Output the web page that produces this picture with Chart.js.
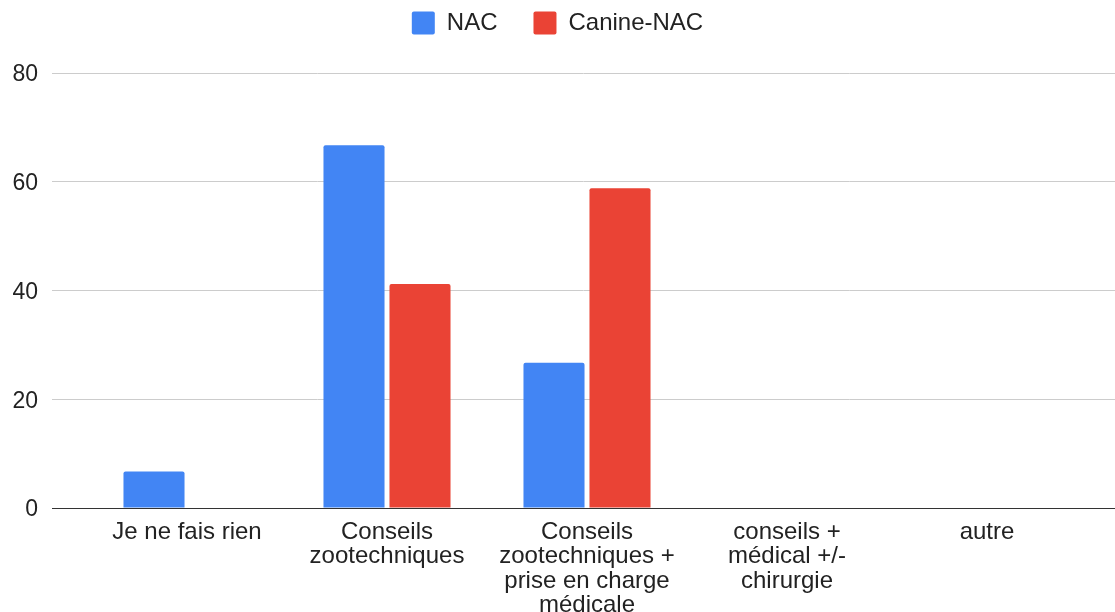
<!DOCTYPE html>
<html>
<head>
<meta charset="utf-8">
<script src="https://cdn.jsdelivr.net/npm/chart.js@4"></script>
<style>
  html, body { margin: 0; padding: 0; background: #fff; }
  #wrap { width: 1115px; height: 612px; }
</style>
</head>
<body>
<div id="wrap"><canvas id="myChart"></canvas></div>
<script>
const categories = [
    'Je ne fais rien',
    ['Conseils', 'zootechniques'],
    ['Conseils', 'zootechniques +', 'prise en charge', 'médicale'],
    ['conseils +', 'médical +/-', 'chirurgie'],
    'autre'
];
const nac = [6.7, 66.7, 26.7, 0, 0];
const canineNac = [0, 41.2, 58.8, 0, 0];
const yTicks = [0, 20, 40, 60, 80];

Chart.defaults.font.family = "'Liberation Sans', Arial, sans-serif";
Chart.defaults.font.size = 23;
Chart.defaults.color = '#222';

function toPoints(tab) {
    return tab.map((v, i) => ({ x: i, y: v }));
}

// legend height fixed so the plot starts at the same place as the original
const legendSpace = {
    id: 'legendSpace',
    beforeInit(chart) {
        const fitLegend = chart.legend.fit;
        chart.legend.fit = function () {
            fitLegend.bind(chart.legend)();
            this.height = 98;
        };
    }
};

const ctx = document.getElementById('myChart').getContext('2d');
const myChart = new Chart(ctx, {
    type: 'bar',
    data: {
        datasets: [{
            label: 'NAC',
            data: toPoints(nac),
            backgroundColor: '#4285F4',
            borderRadius: { topLeft: 2, topRight: 2 },
            borderSkipped: 'start'
        }, {
            label: 'Canine-NAC',
            data: toPoints(canineNac),
            backgroundColor: '#EA4335',
            borderRadius: { topLeft: 2, topRight: 2 },
            borderSkipped: 'start'
        }]
    },
    options: {
        responsive: true,
        maintainAspectRatio: false,
        animation: false,
        categoryPercentage: 0.66,
        barPercentage: 0.925,
        layout: { padding: { top: -25, right: 0, left: 0, bottom: 0 } },
        plugins: {
            legend: {
                position: 'top',
                labels: {
                    boxWidth: 23,
                    boxHeight: 23,
                    useBorderRadius: true,
                    borderRadius: 2,
                    padding: 36,
                    font: { size: 24 }
                }
            },
            tooltip: { enabled: false }
        },
        scales: {
            x: {
                type: 'linear',
                min: -0.675,
                max: 4.64,
                offset: false,
                grid: { display: false, drawTicks: false },
                border: { display: true, color: '#333', width: 1 },
                afterBuildTicks: axis => {
                    axis.ticks = categories.map((c, i) => ({ value: i }));
                },
                afterFit: axis => { axis.height = 104; },
                ticks: {
                    autoSkip: false,
                    maxRotation: 0,
                    padding: 12,
                    font: { size: 24, lineHeight: 1.02 },
                    callback: v => categories[v]
                }
            },
            y: {
                min: 0,
                max: 80,
                afterBuildTicks: axis => {
                    axis.ticks = yTicks.map(v => ({ value: v }));
                },
                afterFit: axis => { axis.width = 52; },
                grid: { color: '#ccc', drawTicks: false, lineWidth: 1 },
                border: { display: false },
                ticks: { padding: 14, labelOffset: 2, font: { size: 23 } }
            }
        }
    },
    plugins: [legendSpace]
});
</script>
</body>
</html>
